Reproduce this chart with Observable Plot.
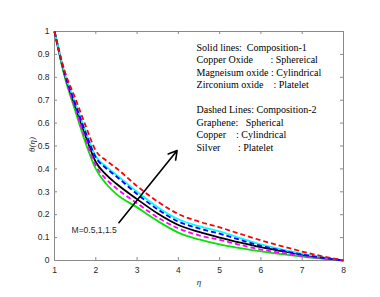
<!DOCTYPE html>
<html><head><meta charset="utf-8">
<script src="https://cdn.jsdelivr.net/npm/d3@7"></script>
<script src="https://cdn.jsdelivr.net/npm/@observablehq/plot@0.6"></script>
<style>
body{margin:0;background:#fff;}
</style>
</head><body><div id="chart"></div>
<script>
const eta = [1, 1.25, 1.5, 1.75, 2, 2.25, 2.5, 3, 3.5, 4, 4.5, 5, 5.5, 6, 6.5, 7, 7.5, 8];
const greenSolid   = [1, 0.80, 0.655, 0.515, 0.40, 0.335, 0.29, 0.232, 0.172, 0.122, 0.092, 0.07, 0.054, 0.04, 0.028, 0.017, 0.008, 0];
const blackSolid   = [1, 0.81, 0.675, 0.545, 0.43, 0.375, 0.335, 0.268, 0.205, 0.155, 0.125, 0.1, 0.078, 0.058, 0.041, 0.025, 0.012, 0];
const cyanSolid    = [1, 0.815, 0.69, 0.565, 0.455, 0.41, 0.374, 0.3, 0.233, 0.18, 0.15, 0.127, 0.098, 0.07, 0.049, 0.03, 0.014, 0];
const magentaDash  = [1, 0.805, 0.665, 0.53, 0.415, 0.355, 0.315, 0.25, 0.188, 0.14, 0.11, 0.09, 0.068, 0.048, 0.033, 0.019, 0.009, 0];
const blueDash     = [1, 0.815, 0.685, 0.56, 0.45, 0.403, 0.367, 0.29, 0.223, 0.17, 0.14, 0.117, 0.09, 0.064, 0.044, 0.026, 0.012, 0];
const redDash      = [1, 0.825, 0.71, 0.59, 0.48, 0.437, 0.403, 0.325, 0.257, 0.203, 0.17, 0.145, 0.116, 0.088, 0.063, 0.039, 0.018, 0];

const xTicks = [1, 2, 3, 4, 5, 6, 7, 8];
const yTicks = [0, 0.1, 0.2, 0.3, 0.4, 0.5, 0.6, 0.7, 0.8, 0.9, 1];

const legendLines = [
  "Solid lines:  Composition-1",
  "Copper Oxide       : Sphereical",
  "Magneisum oxide : Cylindrical",
  "Zirconium oxide    : Platelet",
  "",
  "Dashed Lines: Composition-2",
  "Graphene:   Spherical",
  "Copper    : Cylindrical",
  "Silver       : Platelet"
];
const mLabel = "M=0.5,1,1.5";
const arrowFrom = {x: 2.56, y: 0.165};
const arrowTo = {x: 3.97, y: 0.48};

const series = [
  {v: greenSolid, color: "#00e600", dash: null},
  {v: blackSolid, color: "#000000", dash: null},
  {v: cyanSolid, color: "#00ffff", dash: null},
  {v: magentaDash, color: "#ff00ff", dash: "5,3"},
  {v: blueDash, color: "#0000ff", dash: "5,3"},
  {v: redDash, color: "#ff0000", dash: "5,3"}
];

const tickFont = "'Liberation Sans', Arial, sans-serif";
const gray = "#8a8a8a";

const marks = [
  Plot.frame({stroke: gray, strokeWidth: 1}),
  Plot.ruleX(xTicks, {x: d => d, y1: 0, y2: 0.013, stroke: gray}),
  Plot.ruleX(xTicks, {x: d => d, y1: 1, y2: 0.987, stroke: gray}),
  Plot.ruleY(yTicks, {y: d => d, x1: 1, x2: 1.073, stroke: gray}),
  Plot.ruleY(yTicks, {y: d => d, x1: 8, x2: 7.927, stroke: gray}),
  Plot.axisX(xTicks, {anchor: "bottom", tickSize: 0, tickPadding: 6, label: null, fontSize: 8.5, fill: "#262626", fontFamily: tickFont}),
  Plot.axisY(yTicks, {anchor: "left", tickSize: 0, tickPadding: 5, label: null, fontSize: 8.5, fill: "#262626", fontFamily: tickFont, tickFormat: d => String(d)}),
  Plot.text(["\u03B8(\u03B7)"], {frameAnchor: "left", dx: -22, dy: 6, rotate: -90, fontSize: 9, fontStyle: "italic", fontFamily: "'Liberation Serif', serif", fill: "#262626"}),
  Plot.text(["\u03B7"], {frameAnchor: "bottom", dy: 24, fontSize: 9, fontStyle: "italic", fontFamily: "'Liberation Serif', serif", fill: "#262626"}),
  ...series.map(s => Plot.line(eta.map((x, i) => ({x, y: s.v[i]})), {
    x: "x", y: "y", stroke: s.color, strokeWidth: 1.8, strokeDasharray: s.dash, strokeLinejoin: "round", strokeLinecap: "butt", curve: "monotone-x"
  })),
  Plot.arrow([{x1: arrowFrom.x, y1: arrowFrom.y, x2: arrowTo.x, y2: arrowTo.y}], {
    x1: "x1", y1: "y1", x2: "x2", y2: "y2", stroke: "#000", strokeWidth: 1.6, headLength: 9
  }),
  Plot.text([mLabel], {x: [1.96], y: [0.131], fontSize: 8.5, fontFamily: tickFont, fill: "#262626"}),
  Plot.text([legendLines.join("\n")], {x: [4.44], y: [0.955], textAnchor: "start", lineAnchor: "top", lineHeight: 1.25, fontSize: 10, fontFamily: "'Liberation Serif', 'Times New Roman', serif", fill: "#000"})
];

const chart = Plot.plot({
  width: 380, height: 297,
  marginLeft: 54, marginRight: 37, marginTop: 31, marginBottom: 37,
  style: {background: "#fff", overflow: "visible"},
  x: {domain: [1, 8]},
  y: {domain: [0, 1]},
  marks
});
chart.querySelectorAll("text").forEach(t => { t.setAttribute("xml:space", "preserve"); t.style.whiteSpace = "pre"; });
document.getElementById("chart").append(chart);
</script>
</body></html>
